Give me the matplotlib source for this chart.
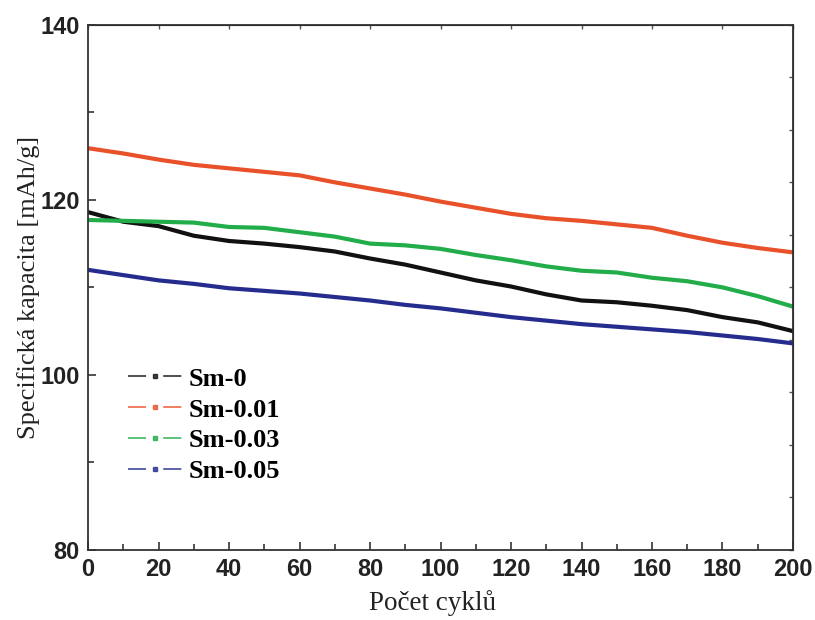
import numpy as np
import matplotlib.pyplot as plt
from matplotlib.lines import Line2D

# cycles and capacities (mAh/g)
cycles = [0, 10, 20, 30, 40, 50, 60, 70, 80, 90, 100,
          110, 120, 130, 140, 150, 160, 170, 180, 190, 200]
sm_0 = [118.6, 117.5, 117.0, 115.9, 115.3, 115.0, 114.6, 114.1, 113.3, 112.6, 111.7,
        110.8, 110.1, 109.2, 108.5, 108.3, 107.9, 107.4, 106.6, 106.0, 105.0]
sm_001 = [125.9, 125.3, 124.6, 124.0, 123.6, 123.2, 122.8, 122.0, 121.3, 120.6, 119.8,
          119.1, 118.4, 117.9, 117.6, 117.2, 116.8, 115.9, 115.1, 114.5, 114.0]
sm_003 = [117.7, 117.6, 117.5, 117.4, 116.9, 116.8, 116.3, 115.8, 115.0, 114.8, 114.4,
          113.7, 113.1, 112.4, 111.9, 111.7, 111.1, 110.7, 110.0, 109.0, 107.8]
sm_005 = [112.0, 111.4, 110.8, 110.4, 109.9, 109.6, 109.3, 108.9, 108.5, 108.0, 107.6,
          107.1, 106.6, 106.2, 105.8, 105.5, 105.2, 104.9, 104.5, 104.1, 103.6]

names = ['Sm-0', 'Sm-0.01', 'Sm-0.03', 'Sm-0.05']
colors = ['#111111', '#e9512b', '#22ad4a', '#262c8e']
series = [sm_0, sm_001, sm_003, sm_005]

fig = plt.figure(figsize=(8.15, 6.2), dpi=100)
ax = fig.add_axes([0.108, 0.113, 0.865, 0.847])

for vals, c in zip(series, colors):
    ax.plot(cycles, vals, color=c, linewidth=3)

ax.set_xlim(0, 200)
ax.set_ylim(80, 140)
ax.set_xticks(np.arange(0, 201, 20))
ax.set_xticks(np.arange(10, 200, 20), minor=True)
ax.set_yticks([80, 100, 120, 140])
ax.set_yticks([90, 110, 130], minor=True)

tick_font = {'family': 'Liberation Sans', 'weight': 'bold', 'size': 17}
ax.set_xticklabels([str(v) for v in range(0, 201, 20)], fontdict=tick_font, color='#222222')
ax.set_yticklabels(['80', '100', '120', '140'], fontdict=tick_font, color='#222222')
ax.tick_params(which='major', direction='in', length=6, width=1.2, color='#333333', pad=6)
ax.tick_params(which='minor', direction='in', length=4, width=1.2, color='#333333')

for s in ax.spines.values():
    s.set_linewidth(1.3)
    s.set_color('#333333')

# small ticks on top and right
top = ax.secondary_xaxis('top')
top.set_xticks(np.arange(0, 201, 20))
top.set_xticklabels([])
top.tick_params(direction='in', length=3, width=1, color='#555555')
right = ax.secondary_yaxis('right')
right.set_yticks(np.arange(80, 141, 6))
right.set_yticklabels([])
right.tick_params(direction='in', length=3, width=1, color='#555555')

ax.set_xlabel('Počet cyklů', family='Liberation Serif', fontsize=19.5, color='#222222', labelpad=6)
ax.xaxis.label.set_x(0.489)
ax.set_ylabel('Specifická kapacita [mAh/g]', family='Liberation Serif', fontsize=19,
              color='#222222', labelpad=0)

handles = []
for c in colors:
    h = Line2D([0, 0.5, 1], [0, 0, 0], color=c, linewidth=1.3, alpha=0.8,
               linestyle=(0, (10, 9.5)), marker='s', markersize=3.5, markevery=[1])
    handles.append(h)
ax.legend(handles, names, loc='upper left', bbox_to_anchor=(0.038, 0.373), frameon=False,
          prop={'family': 'Liberation Serif', 'weight': 'bold', 'size': 19},
          handlelength=2.05, handletextpad=0.25, labelspacing=0.28, borderpad=0)

fig.savefig('out.png', dpi=100)
